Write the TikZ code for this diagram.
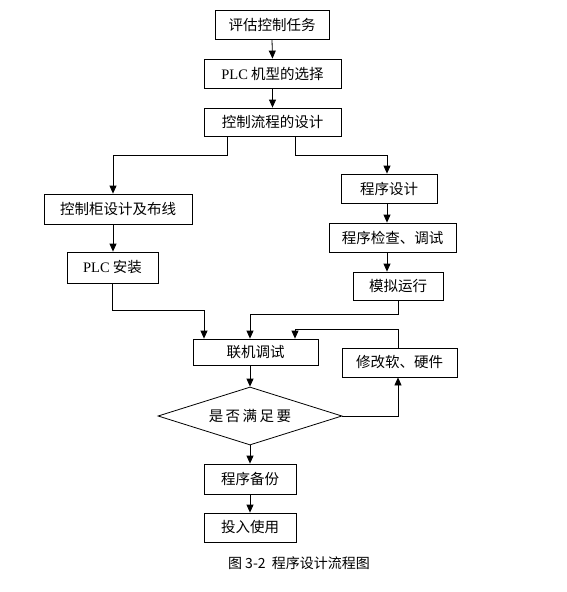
\documentclass[tikz,border=0pt]{standalone}
\usepackage{fontspec}
\setmainfont{Liberation Serif}
\newfontfamily\cjk{Noto Sans CJK SC}
\usetikzlibrary{arrows.meta, positioning, calc, shapes.geometric}

\tikzset{
  stepbox/.style={draw=black, line width=0.8pt, fill=white, inner sep=0pt,
    font=\fontsize{14.5}{16}\cjk},
  testbox/.style={draw=black, line width=0.8pt, shape=diamond, aspect=3.2,
    inner sep=0pt, minimum width=184, minimum height=58,
    font=\fontsize{14.5}{16}\cjk},
  arr/.style={draw=black, line width=0.8pt, -{Triangle[length=8pt, width=7pt]}},
}

\begin{document}
\begin{tikzpicture}[x=1pt, y=-1pt]
\useasboundingbox (0,0) rectangle (566,592);
% left and top column
\node[stepbox, minimum width=114, minimum height=29] (task) at (272,24.5) {评估控制任务};
\node[stepbox, minimum width=137, minimum height=29] (plc) at (272.5,73.5) {{\rmfamily PLC} 机型的选择};
\node[stepbox, minimum width=137, minimum height=28] (flow) at (272.5,122) {控制流程的设计};
\node[stepbox, minimum width=148, minimum height=30] (cab) at (118,209) {控制柜设计及布线};
\node[stepbox, minimum width=91, minimum height=31] (inst) at (112.5,267.5) {{\rmfamily PLC} 安装};
% right column
\node[stepbox, minimum width=96, minimum height=29] (prog) at (389,188.5) {程序设计};
\node[stepbox, minimum width=127, minimum height=29] (check) at (392.5,237.5) {程序检查、调试};
\node[stepbox, minimum width=90, minimum height=28] (sim) at (398,286) {模拟运行};
% lower part
\node[stepbox, minimum width=125, minimum height=26] (joint) at (255.5,352) {联机调试};
\node[stepbox, minimum width=115, minimum height=29] (mod) at (399.5,362.5) {修改软、硬件};
\node[testbox] (test) at (250,416) {是\kern2.5pt 否\kern2.5pt 满\kern2.5pt 足\kern2.5pt 要};
\node[stepbox, minimum width=92, minimum height=30] (backup) at (250,479) {程序备份};
\node[stepbox, minimum width=92, minimum height=29] (use) at (250,527.5) {投入使用};
\node[font=\fontsize{14}{16}\cjk] (cap) at (299,563) {图 3-2\ \ 程序设计流程图};

\draw[arr] (task.south) -- (plc.north);
\draw[arr] (plc.south) -- (flow.north);
\draw[arr] ([xshift=-45.5]flow.south) -- ++(0,19) -| ([xshift=-5]cab.north);
\draw[arr] ([xshift=22.5]flow.south) -- ++(0,19) -| ([xshift=-2]prog.north);
\draw[arr] ([xshift=-2]prog.south) -- ([xshift=-2]prog.south |- check.north);
\draw[arr] ([xshift=-5.5]check.south) -- ([xshift=-5.5]check.south |- sim.north);
\draw[arr] ([xshift=-5]cab.south) -- ([xshift=-5]cab.south |- inst.north);
\draw[arr] (inst.south) -- ++(0,27) -| ([xshift=-51.5]joint.north);
\draw[arr] (sim.south) -- ++(0,14) -| ([xshift=-5.5]joint.north);
\draw[arr] ([xshift=-1.5]mod.north) -- ++(0,-18) -| ([xshift=39.5]joint.north);
\draw[arr] ([xshift=-5.5]joint.south) -- (test.north);
\draw[arr] (test.east) -| ([xshift=-1.5]mod.south);
\draw[arr] (test.south) -- (backup.north);
\draw[arr] (backup.south) -- (use.north);
\end{tikzpicture}
\end{document}
